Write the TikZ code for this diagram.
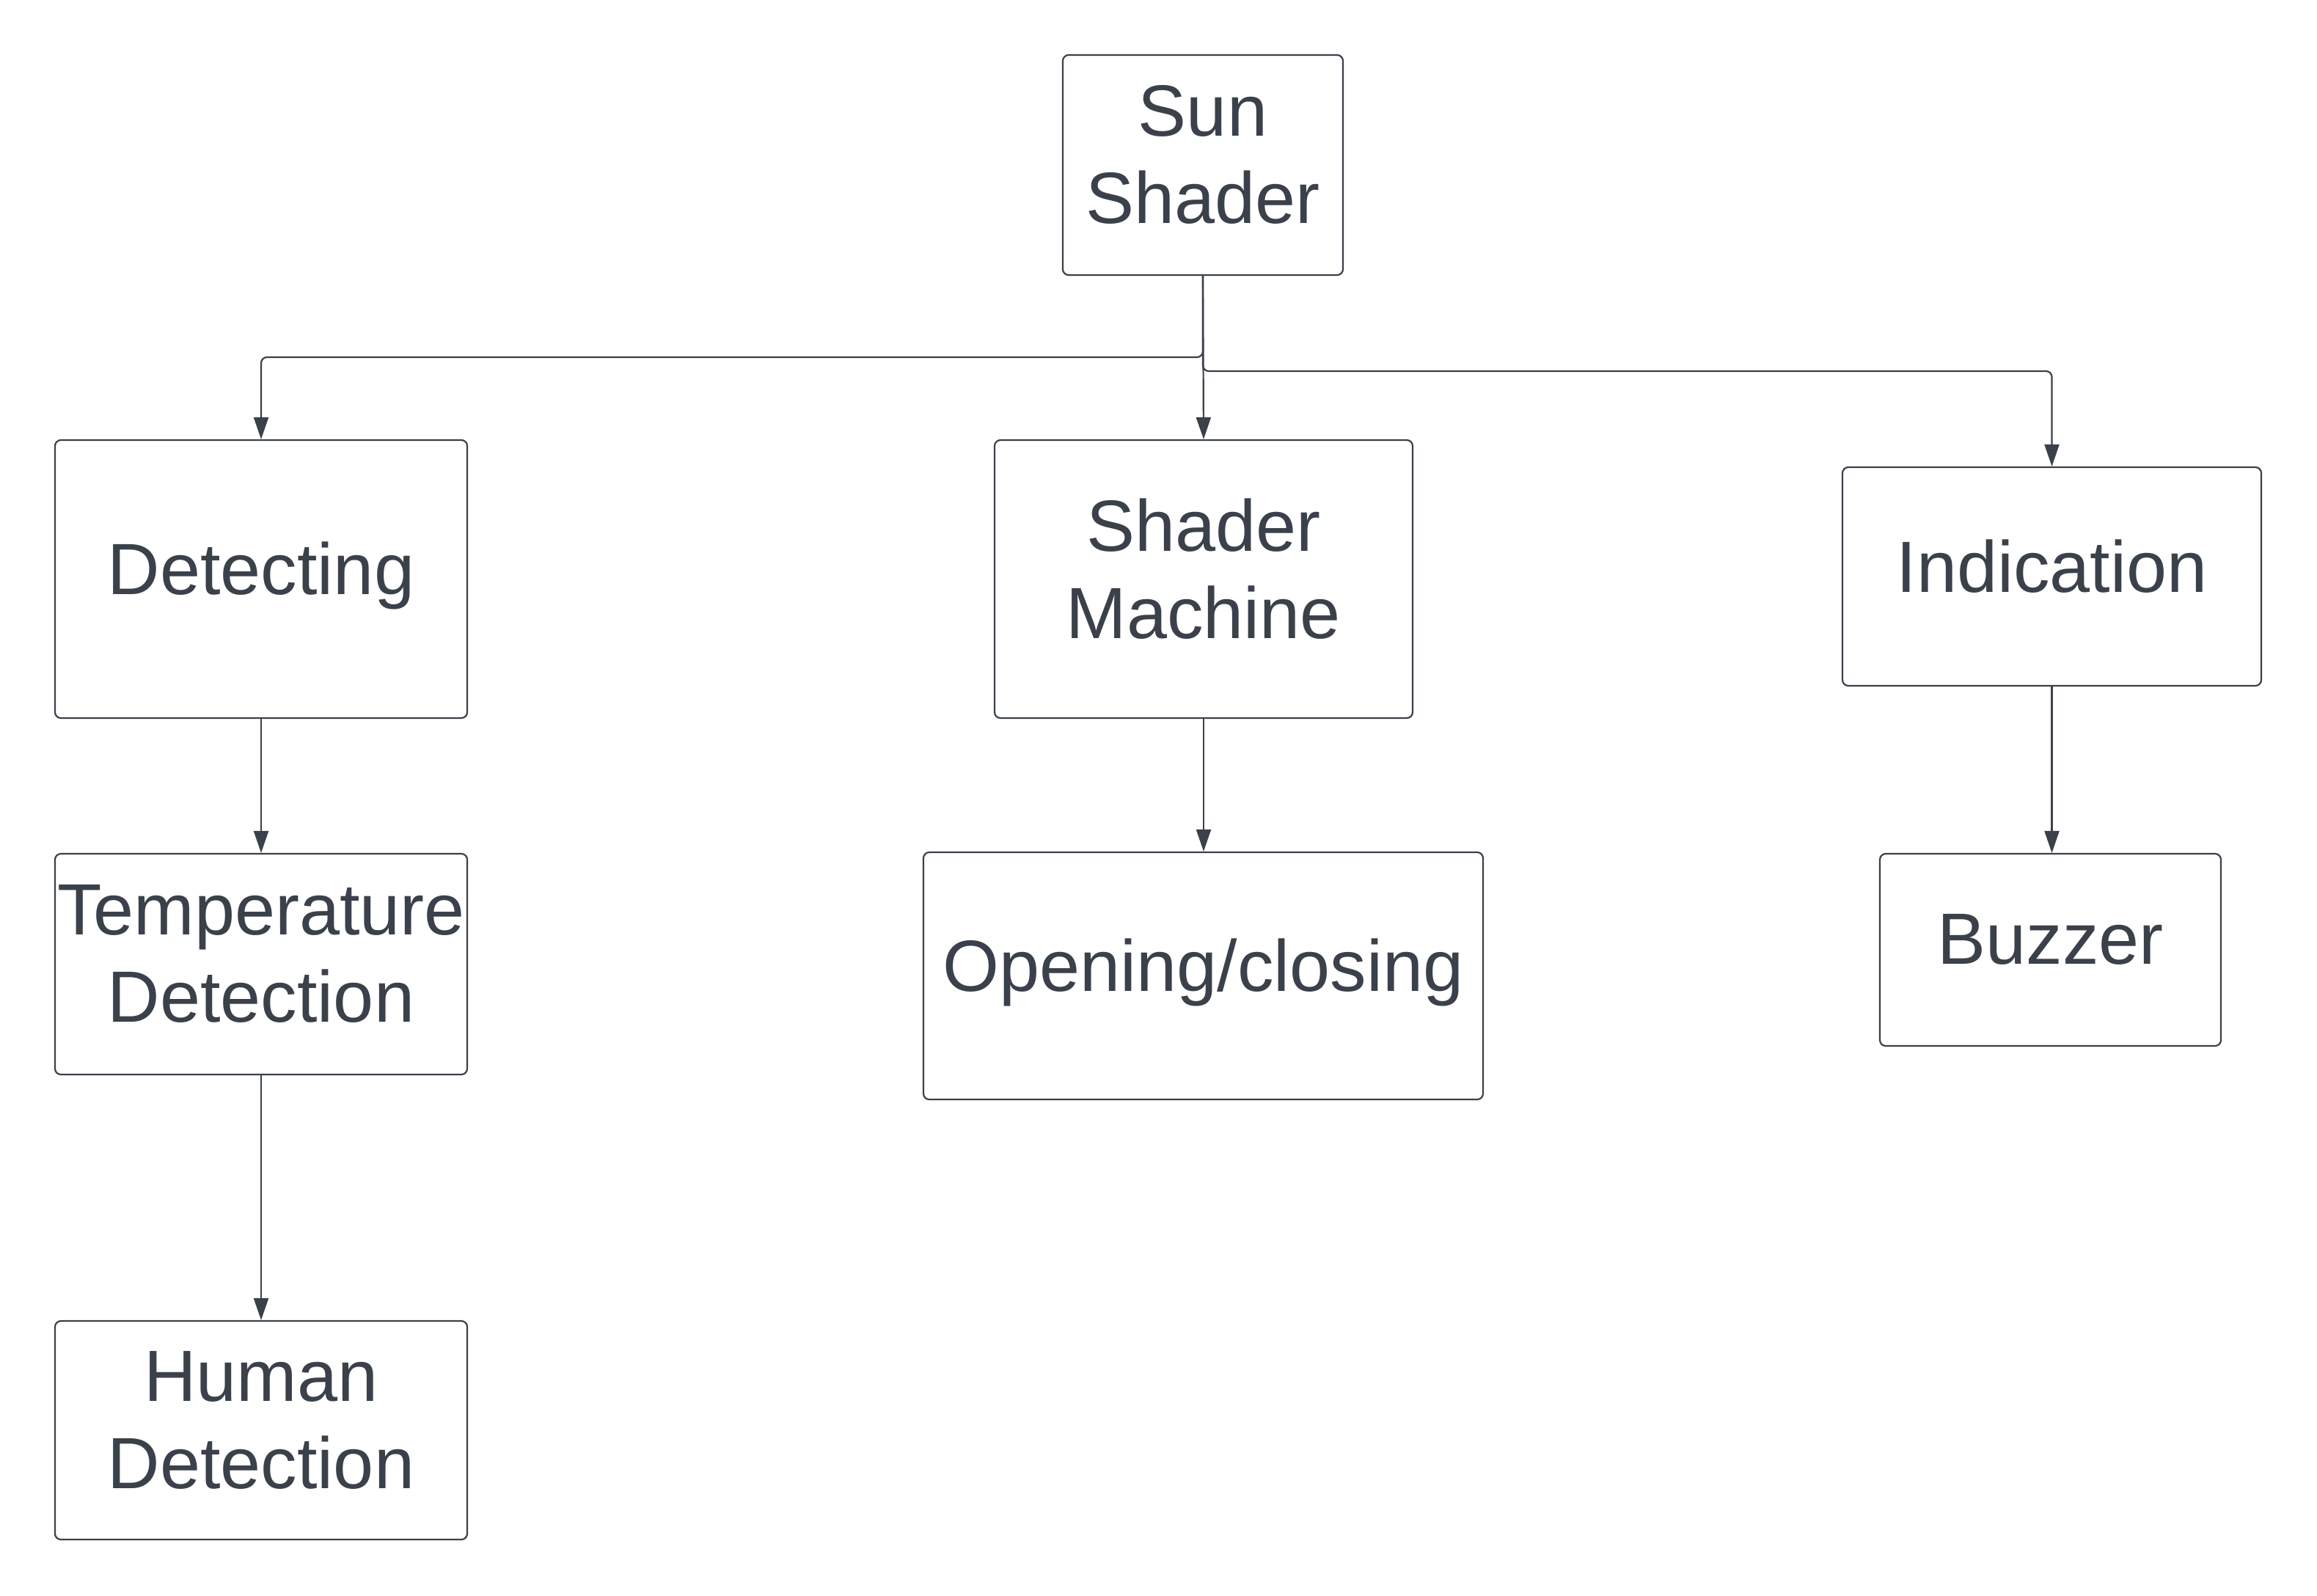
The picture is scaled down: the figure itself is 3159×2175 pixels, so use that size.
\documentclass[tikz,border=0pt]{standalone}
\usepackage{fontspec}
\setmainfont{Liberation Sans}
\usetikzlibrary{arrows.meta}
\definecolor{ink}{HTML}{3A414A}
\newcommand{\ls}{\rule[-0.3em]{0pt}{1em}}
\tikzset{
  box/.style={draw=ink, line width=1.1pt, rounded corners=4pt, fill=white,
    inner sep=0pt, align=center, text=ink,
    font=\fontsize{49.5}{59.5}\selectfont},
  conn/.style={draw=ink, line width=1.1pt, rounded corners=4pt,
    -{Triangle[length=15pt,width=10pt]}}
}
\begin{document}
\begin{tikzpicture}[x=0.5pt,y=-0.5pt]
\useasboundingbox[fill=white] (0,0) rectangle (3159,2175);
\node[box, minimum width=191pt, minimum height=150pt] (sun) at (1640,225) {\ls Sun\\\ls Shader};
\node[box, minimum width=281pt, minimum height=189.5pt] (det) at (356,789.5) {\ls Detecting};
\node[box, minimum width=285pt, minimum height=189.5pt] (mach) at (1641,789.5) {\ls Shader\\\ls Machine};
\node[box, minimum width=285.5pt, minimum height=149pt] (ind) at (2797.5,786) {\ls Indication};
\node[box, minimum width=281pt, minimum height=150.5pt] (temp) at (356,1314.5) {\ls Temperature\\\ls Detection};
\node[box, minimum width=381.5pt, minimum height=168.5pt] (open) at (1640.5,1330.5) {\ls Opening/closing};
\node[box, minimum width=232.5pt, minimum height=131pt] (buzz) at (2795.5,1295) {\ls Buzzer};
\node[box, minimum width=281pt, minimum height=149pt] (human) at (356,1950) {\ls Human\\\ls Detection};
\coordinate (jl) at (1640,487);
\coordinate (jr) at (1640,506);
\draw[conn] (sun.south) -- (jl) -| (det.north);
\draw[conn] (sun.south) -- (mach.north);
\draw[conn] (sun.south) -- (jr) -| (ind.north);
\draw[conn] (det.south) -- (temp.north);
\draw[conn] (temp.south) -- (human.north);
\draw[conn] (mach.south) -- (mach.south |- open.north);
\draw[conn] (ind.south) -- (ind.south |- buzz.north);
\end{tikzpicture}
\end{document}
